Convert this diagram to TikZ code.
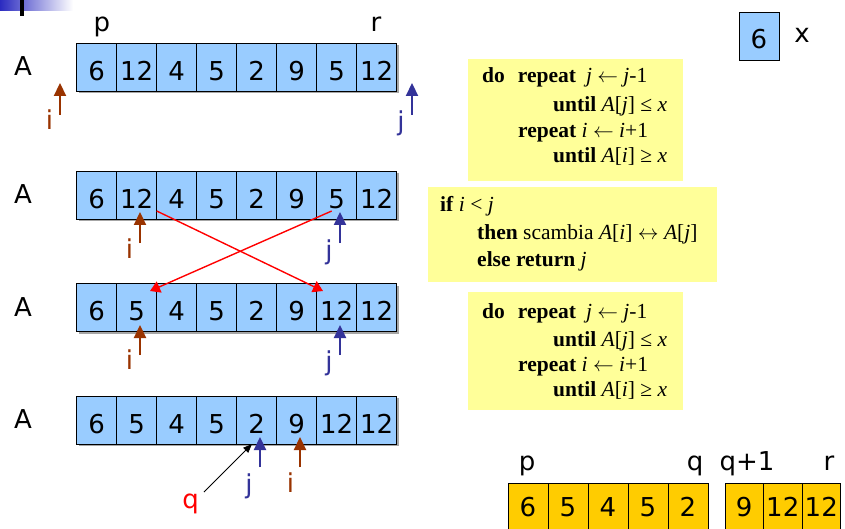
\documentclass[tikz,border=0pt]{standalone}
\usepackage{fontspec}
\setmainfont{Liberation Serif}
\newfontfamily\digitfam{DejaVu Sans}
\usetikzlibrary{arrows.meta}
\definecolor{cellblue}{HTML}{99CCFF}
\definecolor{codeyellow}{HTML}{FFFF99}
\definecolor{goldcol}{HTML}{FFCC00}
\definecolor{ibrown}{HTML}{993300}
\definecolor{jblue}{HTML}{333399}
\definecolor{barblue}{HTML}{2B2BC0}
\newcommand\cellfnt{\digitfam\fontsize{26pt}{30pt}\selectfont}
\newcommand\codefnt{\fontsize{21.5pt}{26pt}\selectfont}
\newcommand\larr{\ensuremath{\leftarrow}}
\newcommand\lrarr{\ensuremath{\leftrightarrow}}
\begin{document}
\begin{tikzpicture}[x=1pt,y=-1pt,
  cell/.style={draw=black, line width=0.8pt, fill=cellblue, minimum width=40pt, minimum height=48pt, inner sep=0pt, text height=26pt, text depth=0pt, font=\cellfnt},
  goldcell/.style={draw=black, line width=0.8pt, fill=goldcol, minimum width=40pt, minimum height=48pt, inner sep=0pt, font=\cellfnt},
  goldcellb/.style={goldcell, minimum width=38.5pt},
  lbl/.style={inner sep=0pt, font=\cellfnt},
  ilbl/.style={lbl, text=ibrown},
  jlbl/.style={lbl, text=jblue},
  iarr/.style={draw=ibrown, line width=2.2pt, -{Triangle[length=13pt,width=12pt]}},
  jarr/.style={draw=jblue, line width=2.2pt, -{Triangle[length=13pt,width=12pt]}},
  swaparr/.style={draw=red, line width=1.4pt, -{Triangle[length=10pt,width=12pt]}},
  qarr/.style={draw=black, line width=0.8pt, -{Triangle[length=9pt,width=7pt]}},
  codebox/.style={fill=codeyellow, draw=none},
  code/.style={inner sep=0pt, anchor=base west, font=\codefnt},
  shadowrow/.style={fill=black!35, draw=none}
]
\clip (0,0) rectangle (845,529);
\fill[white] (0,0) rectangle (845,529);
% top-left decoration
\shade[left color=barblue, right color=white] (0,0) rectangle (73,11);
\fill[black] (20,0) rectangle (24,16);

% labels p, r
\node[lbl, anchor=base] (lp) at (102,31.7) {p};
\node[lbl, anchor=base] (lr) at (376,31.7) {r};

% A labels
\node[lbl, anchor=base] (A1) at (23,76) {A};
\node[lbl, anchor=base] (A2) at (23,204) {A};
\node[lbl, anchor=base] (A3) at (23,316) {A};
\node[lbl, anchor=base] (A4) at (23,428.5) {A};

% row shadows
\fill[shadowrow] (78.5,45) rectangle (398.5,93.5);
\fill[shadowrow] (78.5,173.5) rectangle (398.5,221.5);
\fill[shadowrow] (78.5,285.5) rectangle (398.5,333.5);
\fill[shadowrow] (78.5,398) rectangle (398.5,446);

% rows
\foreach \v [count=\k] in {6,12,4,5,2,9,5,12}
  \node[cell] (r1c\k) at ({56.7+40*\k},67.5) {\v};
\foreach \v [count=\k] in {6,12,4,5,2,9,5,12}
  \node[cell] (r2c\k) at ({56.7+40*\k},195.5) {\v};
\foreach \v [count=\k] in {6,5,4,5,2,9,12,12}
  \node[cell] (r3c\k) at ({56.7+40*\k},307.5) {\v};
\foreach \v [count=\k] in {6,5,4,5,2,9,12,12}
  \node[cell] (r4c\k) at ({56.7+40*\k},420) {\v};

% x box
\node[cell] (xbox) at (759,36) {6};
\node[lbl, anchor=base] (xl) at (802,43) {x};

% row 1 pointers
\coordinate (i1b) at (60,115); \coordinate (i1t) at (60,83);
\coordinate (j1b) at (412,115); \coordinate (j1t) at (412,83);
\draw[iarr] (i1b) -- (i1t);
\draw[jarr] (j1b) -- (j1t);
\node[ilbl] (i1) at (49.5,120) {i};
\node[jlbl] (j1) at (401,123) {j};

% row 2 pointers
\coordinate (i2b) at (140,243); \coordinate (i2t) at (140,212);
\coordinate (j2b) at (340,243); \coordinate (j2t) at (340,212);
\draw[iarr] (i2b) -- (i2t);
\draw[jarr] (j2b) -- (j2t);
\node[ilbl] (i2) at (129.5,249) {i};
\node[jlbl] (j2) at (329,252) {j};

% swap arrows
\coordinate (sa) at (156.7,211); \coordinate (ea) at (323,291);
\coordinate (sb) at (331.7,211); \coordinate (eb) at (150,291);
\draw[swaparr] (sa) -- (ea);
\draw[swaparr] (sb) -- (eb);

% row 3 pointers
\coordinate (i3b) at (140,355); \coordinate (i3t) at (140,325);
\coordinate (j3b) at (340,355); \coordinate (j3t) at (340,325);
\draw[iarr] (i3b) -- (i3t);
\draw[jarr] (j3b) -- (j3t);
\node[ilbl] (i3) at (129.5,360) {i};
\node[jlbl] (j3) at (329,363) {j};

% row 4 pointers
\coordinate (j4b) at (260,467); \coordinate (j4t) at (260,437);
\coordinate (i4b) at (300,467); \coordinate (i4t) at (300,437);
\draw[jarr] (j4b) -- (j4t);
\draw[iarr] (i4b) -- (i4t);
\node[jlbl] (j4) at (249,486) {j};
\node[ilbl] (i4) at (290.5,483) {i};
\node[lbl, text=red] (ql) at (190.5,504) {q};
\coordinate (qs) at (204,492); \coordinate (qt) at (252,444);
\draw[qarr] (qs) -- (qt);

% code boxes
\fill[codebox] (468,59) rectangle (683,181);
\fill[codebox] (428,187) rectangle (717,282);
\fill[codebox] (468,292) rectangle (683,410);

\node[code] (c1a) at (482,82.7) {\textbf{do}\hspace{13pt}\textbf{repeat}\hspace{10pt}\textit{j} \larr{} \textit{j}-1};
\node[code] (c1b) at (553,111.7) {\textbf{until} \textit{A}[\textit{j}] ≤ \textit{x}};
\node[code] (c1c) at (518,138) {\textbf{repeat} \textit{i} \larr{} \textit{i}+1};
\node[code] (c1d) at (553,163) {\textbf{until} \textit{A}[\textit{i}] ≥ \textit{x}};

\node[code] (c2a) at (440,211.7) {\textbf{if} \textit{i} < \textit{j}};
\node[code] (c2b) at (477,240) {\textbf{then} scambia \textit{A}[\textit{i}] \lrarr{} \textit{A}[\textit{j}]};
\node[code] (c2c) at (477,266.7) {\textbf{else return} \textit{j}};

\node[code] (c3a) at (482,318) {\textbf{do}\hspace{13pt}\textbf{repeat}\hspace{10pt}\textit{j} \larr{} \textit{j}-1};
\node[code] (c3b) at (553,346.7) {\textbf{until} \textit{A}[\textit{j}] ≤ \textit{x}};
\node[code] (c3c) at (518,371.7) {\textbf{repeat} \textit{i} \larr{} \textit{i}+1};
\node[code] (c3d) at (553,396.7) {\textbf{until} \textit{A}[\textit{i}] ≥ \textit{x}};

% bottom result
\node[lbl, anchor=base] (bp) at (527,470) {p};
\node[lbl, anchor=base] (bq) at (695,470) {q};
\node[lbl, anchor=base] (bq1) at (747,470) {q+1};
\node[lbl, anchor=base] (br) at (829,470) {r};
\foreach \v [count=\k] in {6,5,4,5,2}
  \node[goldcell] (g\k) at ({488+40*\k},507) {\v};
\foreach \v [count=\k] in {9,12,12}
  \node[goldcellb] (h\k) at ({705.75+38.5*\k},507) {\v};
\end{tikzpicture}
\end{document}
